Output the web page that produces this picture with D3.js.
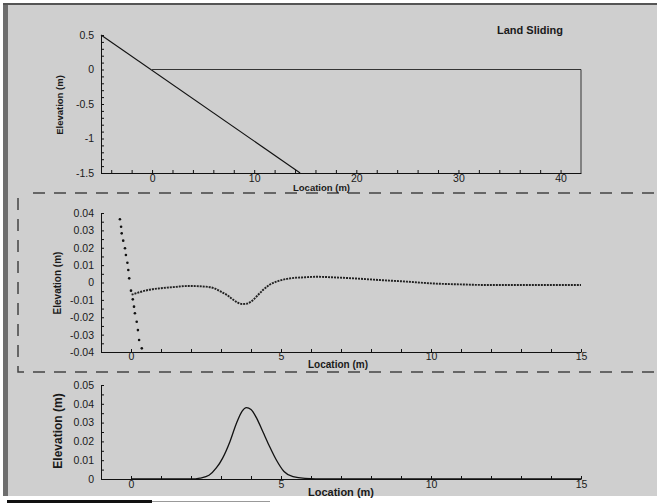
<!DOCTYPE html>
<html>
<head>
<meta charset="utf-8">
<script src="https://cdn.jsdelivr.net/npm/d3@7"></script>
<style>
    body { margin: 0; background: #fff; }
    svg text { font-family: "Liberation Sans", Arial, sans-serif; fill: #1a1a1a; }
    .axis path, .axis line { stroke: #111; }
</style>
</head>
<body>
<div class="chart"></div>
<script>
// panel 1 - slide geometry
var slopeX = [-5, 14.5];
var slopeY = [0.5, -1.5];
var waterX = [0, 42, 42];
var waterY = [0, 0, -1.5];
var p1XTicks = [0, 10, 20, 30, 40];
var p1YTicks = [0.5, 0, -0.5, -1, -1.5];

// panel 2 - slide profile (dots) and free surface
var slideX = [-0.37, -0.33, -0.31, -0.26, -0.2, -0.17, -0.12, -0.09, -0.06, 0.0, 0.06, 0.1, 0.13, 0.19, 0.23, 0.27, 0.36];
var slideY = [0.0364, 0.0321, 0.0283, 0.0241, 0.0197, 0.0158, 0.0114, 0.0072, 0.0024, -0.0047, -0.0097, -0.0139, -0.0177, -0.0226, -0.0274, -0.0331, -0.0379];
var surfX = [0.02, 0.3, 0.6, 1.0, 1.5, 1.9, 2.5, 2.8, 3.0, 3.2, 3.4, 3.55, 3.7, 3.85, 4.0, 4.2, 4.4, 4.65, 4.9, 5.3, 5.8, 6.2, 6.7, 7.5, 8.3, 9.2, 10, 11, 11.7, 13, 15];
var surfY = [-0.007, -0.0055, -0.0042, -0.0033, -0.0025, -0.002, -0.0024, -0.0035, -0.0053, -0.0072, -0.0098, -0.0115, -0.0124, -0.0122, -0.011, -0.0078, -0.0043, -0.001, 0.0008, 0.0024, 0.003, 0.0033, 0.003, 0.0023, 0.0014, 0.0005, -0.0005, -0.0011, -0.0014, -0.0014, -0.0014];
var p2XTicks = [0, 5, 10, 15];
var p2YTicks = [0.04, 0.03, 0.02, 0.01, 0, -0.01, -0.02, -0.03, -0.04];

// panel 3 - wave
var waveX = [0, 1.5, 2.0, 2.3, 2.6, 2.85, 3.05, 3.3, 3.5, 3.7, 3.85, 4.0, 4.2, 4.4, 4.6, 4.85, 5.1, 5.4, 5.8, 6.5, 15];
var waveY = [0, 0, 0, 0.0005, 0.002, 0.006, 0.011, 0.02, 0.029, 0.036, 0.038, 0.037, 0.032, 0.025, 0.018, 0.01, 0.004, 0.0012, 0.0003, 0, 0];
var p3XTicks = [0, 5, 10, 15];
var p3YTicks = [0.05, 0.04, 0.03, 0.02, 0.01, 0];

var W = 657, H = 503;
var svg = d3.select('.chart').append('svg')
    .attr('width', W).attr('height', H);

// scanned page background + frame
svg.append('rect').attr('x', 8).attr('y', 5).attr('width', W - 8).attr('height', 491).attr('fill', '#cfcfcf');
svg.append('rect').attr('x', 3).attr('y', 3).attr('width', 5).attr('height', 493).attr('fill', '#6e6e6e');
svg.append('rect').attr('x', 3).attr('y', 3).attr('width', W - 3).attr('height', 2).attr('fill', '#555');
svg.append('rect').attr('x', 7).attr('y', 500).attr('width', 145).attr('height', 3).attr('fill', '#111');
svg.append('rect').attr('x', 152).attr('y', 501).attr('width', 118).attr('height', 1).attr('fill', '#999');

// dashed separators round the middle panel
var dash = svg.append('g').attr('stroke', '#444').attr('stroke-width', 1.5)
    .attr('stroke-dasharray', '12,9').attr('fill', 'none');
dash.append('path').attr('d', 'M33,193H657');
dash.append('path').attr('d', 'M18,198V372H657');

function fmt(d) { return String(+d.toFixed(3)); }

function range(a, b, step) {
    var out = [];
    for (var v = a; v <= b + step / 10; v += step) out.push(+v.toFixed(4));
    return out;
}

function panel(opt) {
    var x = d3.scaleLinear().domain(opt.xDomain).range([101, 581]);
    var y = d3.scaleLinear().domain(opt.yDomain).range(opt.yRange);
    var g = svg.append('g');

    var isMajor = function (list) {
        return function (d) {
            return list.some(function (t) { return Math.abs(t - d) < 1e-6; }) ? fmt(d) : '';
        };
    };

    g.append('g').attr('class', 'axis')
        .attr('transform', 'translate(0,' + opt.yRange[0] + ')')
        .call(d3.axisBottom(x).tickValues(opt.xMinor).tickFormat(isMajor(opt.xTicks))
            .tickSizeInner(-3).tickSizeOuter(0).tickPadding(opt.xPad))
        .call(function (a) {
            a.selectAll('text').style('font-size', '10.5px');
        });

    g.append('g').attr('class', 'axis')
        .attr('transform', 'translate(101,0)')
        .call(d3.axisLeft(y).tickValues(opt.yMinor).tickFormat(isMajor(opt.yTicks))
            .tickSizeInner(-3).tickSizeOuter(0).tickPadding(7))
        .call(function (a) {
            a.selectAll('text').style('font-size', '10.5px');
        });

    g.append('text')
        .attr('transform', 'translate(' + opt.yLabelX + ',' + opt.yLabelY + ') rotate(-90)')
        .attr('text-anchor', 'middle')
        .style('font-weight', 'bold')
        .style('font-size', opt.yLabelSize + 'px')
        .text('Elevation (m)');

    g.append('text')
        .attr('x', opt.xLabelX).attr('y', opt.xLabelY)
        .style('font-weight', 'bold')
        .style('font-size', opt.xLabelSize + 'px')
        .text('Location (m)');

    return {x: x, y: y, g: g};
}

function pts(xs, ys) {
    return xs.map(function (v, i) { return [v, ys[i]]; });
}

// panel 1
var p1 = panel({
    xDomain: [-5, 42], yDomain: [-1.5, 0.5], yRange: [173, 35],
    xTicks: p1XTicks, xMinor: range(-4, 40, 2), xPad: 2,
    yTicks: p1YTicks, yMinor: range(-1.5, 0.5, 0.1),
    yLabelX: 63, yLabelY: 105, yLabelSize: 9.5,
    xLabelX: 293, xLabelY: 191, xLabelSize: 9.5
});
var line1 = d3.line().x(function (d) { return p1.x(d[0]); }).y(function (d) { return p1.y(d[1]); });
p1.g.append('path').attr('d', line1(pts(slopeX, slopeY)))
    .attr('fill', 'none').attr('stroke', '#111').attr('stroke-width', 1.1);
p1.g.append('path').attr('d', line1(pts(waterX, waterY)))
    .attr('fill', 'none').attr('stroke', '#222').attr('stroke-width', 0.9);
svg.append('text').attr('x', 530).attr('y', 34).attr('text-anchor', 'middle')
    .style('font-weight', 'bold').style('font-size', '11px').text('Land Sliding');

// panel 2
var p2 = panel({
    xDomain: [-1, 15], yDomain: [-0.04, 0.04], yRange: [352, 213],
    xTicks: p2XTicks, xMinor: range(0, 15, 1), xPad: 1,
    yTicks: p2YTicks, yMinor: range(-0.04, 0.04, 0.005),
    yLabelX: 61, yLabelY: 283, yLabelSize: 10,
    xLabelX: 308, xLabelY: 368, xLabelSize: 10
});
var line2 = d3.line().curve(d3.curveMonotoneX)
    .x(function (d) { return p2.x(d[0]); }).y(function (d) { return p2.y(d[1]); });
p2.g.append('path').attr('d', line2(pts(surfX, surfY)))
    .attr('fill', 'none').attr('stroke', '#222').attr('stroke-width', 1.9)
    .attr('stroke-dasharray', '2,1');
p2.g.selectAll('circle.slide')
    .data(pts(slideX, slideY))
    .enter()
    .append('circle')
    .attr('class', 'slide')
    .attr('cx', function (d) { return p2.x(d[0]); })
    .attr('cy', function (d) { return p2.y(d[1]); })
    .attr('r', 1.3)
    .attr('fill', '#111');

// panel 3
var p3 = panel({
    xDomain: [-1, 15], yDomain: [0, 0.05], yRange: [479, 385],
    xTicks: p3XTicks, xMinor: range(0, 15, 1), xPad: 2,
    yTicks: p3YTicks, yMinor: range(0, 0.05, 0.005),
    yLabelX: 62, yLabelY: 431, yLabelSize: 12,
    xLabelX: 308, xLabelY: 496, xLabelSize: 11
});
var line3 = d3.line().curve(d3.curveMonotoneX)
    .x(function (d) { return p3.x(d[0]); }).y(function (d) { return p3.y(d[1]); });
p3.g.append('path').attr('d', line3(pts(waveX, waveY)))
    .attr('fill', 'none').attr('stroke', '#111').attr('stroke-width', 1.3);
</script>
</body>
</html>
